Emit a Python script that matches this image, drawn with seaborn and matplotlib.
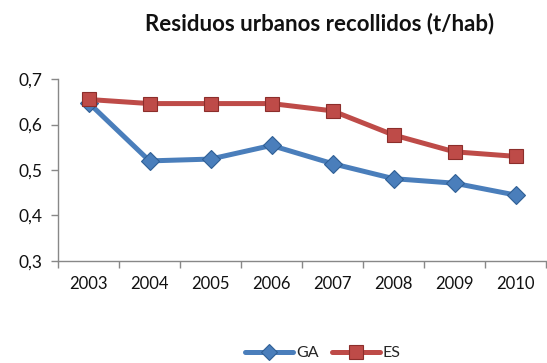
import numpy as np
import pandas as pd
import matplotlib
matplotlib.use("Agg")
import matplotlib.pyplot as plt
import seaborn as sns

years = ["2003", "2004", "2005", "2006", "2007", "2008", "2009", "2010"]
ga = [0.648, 0.520, 0.524, 0.554, 0.514, 0.481, 0.471, 0.445]
es = [0.655, 0.646, 0.646, 0.646, 0.630, 0.577, 0.540, 0.530]
yticks = [0.3, 0.4, 0.5, 0.6, 0.7]

sns.set_style("white")
plt.rcParams["font.family"] = ["Lato", "DejaVu Sans"]

df = pd.DataFrame({
    "x": list(range(len(years))) * 2,
    "valor": ga + es,
    "serie": ["GA"] * len(years) + ["ES"] * len(years),
})

fig = plt.figure(figsize=(5.47, 3.63), dpi=100)
ax = fig.add_axes([58 / 547, (363 - 261) / 363, (546 - 58) / 547, (261 - 79) / 363])

palette = {"GA": "#4A7EBB", "ES": "#BE4B48"}
edges = {"GA": "#2F5F95", "ES": "#8C2E2B"}
markers = {"GA": "D", "ES": "s"}
sizes = {"GA": 9.5, "ES": 10.5}
for name in ["GA", "ES"]:
    sub = df[df["serie"] == name]
    sns.lineplot(data=sub, x="x", y="valor", ax=ax, color=palette[name],
                 linewidth=3.6, marker=markers[name], markersize=sizes[name],
                 markerfacecolor=palette[name], markeredgecolor=edges[name],
                 markeredgewidth=0.8, label=name)

ax.set_xlim(-0.5, len(years) - 0.5)
ax.set_ylim(0.3, 0.7)
ax.set_yticks(yticks)
ax.set_yticklabels([f"{v:.1f}".replace(".", ",") for v in yticks])
ax.set_xticks(np.arange(-0.5, len(years), 1.0))
ax.set_xticklabels([])
ax.set_xticks(range(len(years)), minor=True)
ax.set_xticklabels(years, minor=True)
ax.tick_params(axis="x", which="major", length=5, width=1, color="#888888", direction="out", bottom=True)
ax.tick_params(axis="x", which="minor", length=0, pad=11, labelsize=12, labelcolor="#111111")
ax.tick_params(axis="y", length=5, width=1, color="#888888", direction="out", left=True,
               pad=6, labelsize=12.5, labelcolor="#111111")
ax.set_xlabel("")
ax.set_ylabel("")
for s in ["top", "right"]:
    ax.spines[s].set_visible(False)
for s in ["left", "bottom"]:
    ax.spines[s].set_color("#888888")
    ax.spines[s].set_linewidth(1)

fig.text(320 / 547, 1 - 24 / 363, "Residuos urbanos recollidos (t/hab)",
         ha="center", va="center", fontsize=16, fontweight="bold", color="#111111")

ax.legend(loc="center", bbox_to_anchor=(323 / 547, 1 - 353 / 363),
          bbox_transform=fig.transFigure, ncol=2, frameon=False,
          fontsize=11.5, handlelength=3.0, handletextpad=0.2, columnspacing=0.8,
          markerscale=0.9)

fig.savefig("out.png", dpi=100)
